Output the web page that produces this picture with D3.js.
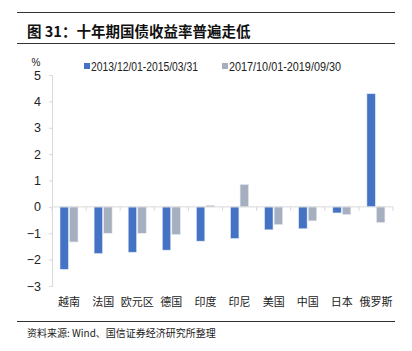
<!DOCTYPE html>
<html><head><meta charset="utf-8">
<script src="https://cdn.jsdelivr.net/npm/d3@7"></script>
<style>body{margin:0;background:#fff}svg{display:block}</style>
</head><body>
<svg id="c" width="412" height="351"></svg>
<script>
const categories = ["越南","法国","欧元区","德国","印度","印尼","美国","中国","日本","俄罗斯"];
const series1 = [-2.37,-1.77,-1.72,-1.64,-1.30,-1.20,-0.87,-0.83,-0.23,4.29];
const series2 = [-1.33,-1.00,-1.00,-1.05,0.06,0.85,-0.67,-0.53,-0.29,-0.59];
const seriesNames = ["2013/12/01-2015/03/31","2017/10/01-2019/09/30"];
const yTicks = [5,4,3,2,1,0,-1,-2,-3];
const colors = ["#4472C4","#A5AFBF"];

const svg = d3.select("#c");
const cjk = "'Noto Sans CJK SC','Noto Sans',sans-serif";
const narrow = "'Liberation Sans Narrow','Arial Narrow','Liberation Sans',sans-serif";

// title rules
svg.append("line").attr("x1",17).attr("x2",395).attr("y1",12.5).attr("y2",12.5).attr("stroke","#333").attr("stroke-width",1.2);
svg.append("line").attr("x1",17).attr("x2",395).attr("y1",43.5).attr("y2",43.5).attr("stroke","#333").attr("stroke-width",1.2);
svg.append("text").attr("x",27).attr("y",37).attr("font-family",cjk).attr("font-weight","bold").attr("font-size",14.5).attr("fill","#111").text("图 31：十年期国债收益率普遍走低");
svg.append("line").attr("x1",17).attr("x2",395).attr("y1",321.5).attr("y2",321.5).attr("stroke","#333").attr("stroke-width",1.2);
svg.append("text").attr("x",27).attr("y",337).attr("font-family",cjk).attr("font-size",10).attr("fill","#222").text("资料来源: Wind、国信证券经济研究所整理");

const x = d3.scaleBand().domain(categories).range([52,393]);
const y = d3.scaleLinear().domain([-3,5]).range([286,75]);
const inner = d3.scaleBand().domain([0,1]).range([8,26]).paddingInner(0.12);

// y axis
const ya = svg.append("g").attr("transform","translate(52,0)")
  .call(d3.axisLeft(y).tickValues(yTicks).tickSize(3).tickPadding(8).tickFormat(d=>d<0?"−"+Math.abs(d):d));
ya.select(".domain").attr("stroke","#D9D9D9");
ya.selectAll(".tick line").attr("stroke","#D9D9D9");
ya.selectAll(".tick text").attr("font-family",narrow).attr("font-size",12.5).attr("fill","#222");
svg.append("text").attr("x",36).attr("y",66).attr("text-anchor","middle").attr("font-family",narrow).attr("font-size",10).attr("fill","#222").text("%");

// bars
const data = [series1, series2];
data.forEach((s,si)=>{
  svg.append("g").selectAll("rect").data(s).join("rect")
    .attr("x",(d,i)=>x(categories[i])+inner(si))
    .attr("width",inner.bandwidth())
    .attr("y",d=>y(Math.max(0,d)))
    .attr("height",d=>Math.abs(y(d)-y(0)))
    .attr("fill",colors[si]).attr("stroke","#E3E8F0").attr("stroke-width",0.6);
});

// zero axis with category ticks
svg.append("line").attr("x1",52).attr("x2",393).attr("y1",y(0)).attr("y2",y(0)).attr("stroke","#D9D9D9");
const bounds = categories.map(c=>x(c)).concat([393]);
svg.append("g").selectAll("line").data(bounds).join("line")
  .attr("x1",d=>d).attr("x2",d=>d).attr("y1",y(0)).attr("y2",y(0)+4).attr("stroke","#D9D9D9");

// category labels
svg.append("g").selectAll("text").data(categories).join("text")
  .attr("x",c=>x(c)+x.bandwidth()/2).attr("y",306).attr("text-anchor","middle")
  .attr("font-family",cjk).attr("font-size",11).attr("fill","#222").text(c=>c);

// legend
const lg = [{x:84,name:seriesNames[0],c:colors[0],w:107},{x:222,name:seriesNames[1],c:colors[1],w:112}];
lg.forEach(l=>{
  svg.append("rect").attr("x",l.x).attr("y",63).attr("width",6).attr("height",6).attr("fill",l.c);
  svg.append("text").attr("x",l.x+7).attr("y",71).attr("font-family",narrow).attr("font-size",12)
    .attr("textLength",l.w).attr("lengthAdjust","spacingAndGlyphs").attr("fill","#222").text(l.name);
});
</script>
</body></html>
